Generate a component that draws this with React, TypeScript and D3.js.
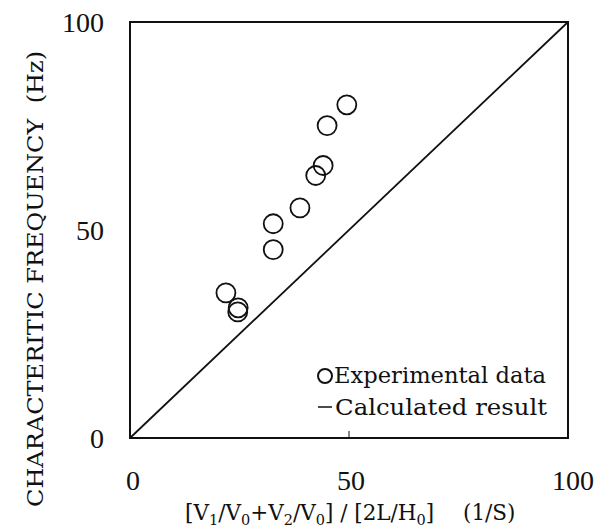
import React, { useEffect, useRef } from 'react';
import * as d3 from 'd3';

// experimental points
const expX = [49.5, 45.0, 44.1, 42.4, 38.8, 32.7, 32.7, 21.9, 24.7, 24.6];
const expY = [80.1, 75.1, 65.5, 63.1, 55.3, 51.5, 45.3, 34.9, 31.3, 30.3];

// calculated result line
const calcX = [0, 100];
const calcY = [0, 100];

const xTicks = [0, 50, 100];
const yTicks = [0, 50, 100];

const NUM_FONT = '"Liberation Serif", serif';
const FONT = '"DejaVu Serif", serif';

function drawChart(node: SVGSVGElement) {
  const totalWidth = 601;
  const totalHeight = 528;
  const margin = { top: 22, right: 33, bottom: 90, left: 130 };

  const svg = d3.select(node)
    .attr('width', totalWidth)
    .attr('height', totalHeight);
  svg.selectAll('*').remove();

  const xScale = d3.scaleLinear()
    .domain([0, 100])
    .range([margin.left, totalWidth - margin.right]);
  const yScale = d3.scaleLinear()
    .domain([0, 100])
    .range([totalHeight - margin.bottom, margin.top]);

  // frame
  svg.append('rect')
    .attr('x', xScale(0))
    .attr('y', yScale(100))
    .attr('width', xScale(100) - xScale(0))
    .attr('height', yScale(0) - yScale(100))
    .attr('fill', 'none')
    .attr('stroke', '#111')
    .attr('stroke-width', 2);

  // small inner tick mark
  svg.append('line')
    .attr('x1', xScale(50)).attr('x2', xScale(50))
    .attr('y1', yScale(0)).attr('y2', yScale(0) - 7)
    .attr('stroke', '#111').attr('stroke-width', 1);

  // tick labels
  svg.append('g').selectAll('text')
    .data(yTicks)
    .enter().append('text')
    .attr('x', 104)
    .attr('y', d => yScale(d))
    .attr('dy', '0.35em')
    .attr('text-anchor', 'end')
    .style('font-family', NUM_FONT)
    .style('font-size', '28px')
    .attr('fill', '#111')
    .text(d => d);

  svg.append('g').selectAll('text')
    .data(xTicks)
    .enter().append('text')
    .attr('x', d => xScale(d) + (d === 100 ? 5 : d === 0 ? 3 : 2))
    .attr('y', 480)
    .attr('dy', '0.35em')
    .attr('text-anchor', 'middle')
    .style('font-family', NUM_FONT)
    .style('font-size', '28px')
    .attr('fill', '#111')
    .text(d => d);

  // calculated line
  const line = d3.line<number>()
    .x((d, i) => xScale(calcX[i]))
    .y((d, i) => yScale(calcY[i]));
  svg.append('path')
    .datum(calcY)
    .attr('d', line)
    .attr('fill', 'none')
    .attr('stroke', '#111')
    .attr('stroke-width', 1.8);

  // experimental points
  svg.append('g').selectAll('circle')
    .data(expX.map((x, i) => ({ x, y: expY[i] })))
    .enter().append('circle')
    .attr('cx', d => xScale(d.x))
    .attr('cy', d => yScale(d.y))
    .attr('r', 9.5)
    .attr('fill', 'none')
    .attr('stroke', '#111')
    .attr('stroke-width', 1.8);

  // legend
  const legend = svg.append('g')
    .style('font-family', FONT)
    .style('font-size', '22px')
    .attr('fill', '#111');
  legend.append('circle')
    .attr('cx', 325).attr('cy', 376).attr('r', 7)
    .attr('fill', 'none').attr('stroke', '#111').attr('stroke-width', 2);
  legend.append('text').attr('x', 334).attr('y', 383)
    .attr('textLength', 212).attr('lengthAdjust', 'spacingAndGlyphs')
    .text('Experimental data');
  legend.append('line')
    .attr('x1', 318).attr('x2', 332).attr('y1', 407).attr('y2', 407)
    .attr('stroke', '#111').attr('stroke-width', 1.5);
  legend.append('text').attr('x', 335).attr('y', 415)
    .attr('textLength', 212).attr('lengthAdjust', 'spacingAndGlyphs')
    .text('Calculated result');

  // x axis title
  const xt = svg.append('text')
    .attr('x', 185)
    .attr('y', 520)
    .style('font-family', FONT)
    .style('font-size', '21.5px')
    .attr('fill', '#111');
  const sub = (t: string) => xt.append('tspan').attr('dy', 5).style('font-size', '14.5px').text(t);
  const norm = (t: string) => xt.append('tspan').attr('dy', -5).text(t);
  xt.append('tspan').text('[V');
  sub('1');
  norm('/V');
  sub('0');
  norm('+V');
  sub('2');
  norm('/V');
  sub('0');
  norm('] / [2L/H');
  sub('0');
  norm(']');
  xt.append('tspan').attr('x', 463).text('(1/S)');

  // y axis title
  svg.append('text')
    .attr('transform', `translate(43,279) rotate(-90)`)
    .attr('text-anchor', 'middle')
    .style('font-family', FONT)
    .style('font-size', '23px')
    .attr('fill', '#111')
    .attr('xml:space', 'preserve')
    .attr('textLength', 456)
    .attr('lengthAdjust', 'spacingAndGlyphs')
    .text('CHARACTERITIC FREQUENCY  (Hz)');
}

const App = () => {
  const ref = useRef<SVGSVGElement>(null);
  useEffect(() => {
    if (ref.current) drawChart(ref.current);
  }, []);
  return (
    <div style={{ position: 'absolute', left: 0, top: 0, background: '#fff' }}>
      <svg ref={ref} style={{ display: 'block' }}></svg>
    </div>
  );
};

export default App;
